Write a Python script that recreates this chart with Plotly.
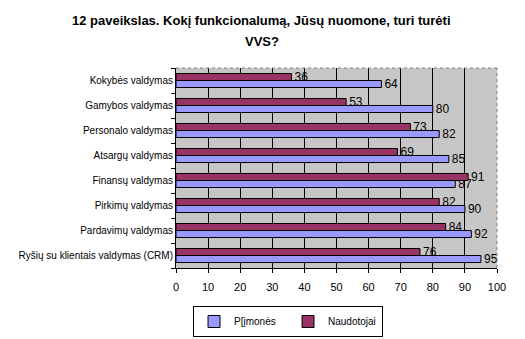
import plotly.graph_objects as go

# Categories listed bottom-to-top (Plotly draws the first category at the bottom)
categories = [
    "Ryšių su klientais valdymas (CRM)",
    "Pardavimų valdymas",
    "Pirkimų valdymas",
    "Finansų valdymas",
    "Atsargų valdymas",
    "Personalo valdymas",
    "Gamybos valdymas",
    "Kokybės valdymas",
]
imones = [95, 92, 90, 87, 85, 82, 80, 64]
naudotojai = [76, 84, 82, 91, 69, 73, 53, 36]
x_ticks = [0, 10, 20, 30, 40, 50, 60, 70, 80, 90, 100]
title_lines = ["12 paveikslas. Kokį funkcionalumą, Jūsų nuomone, turi turėti", "VVS?"]

FONT = "Liberation Sans, Arial, sans-serif"

fig = go.Figure()
fig.add_trace(go.Bar(
    y=categories, x=imones, orientation="h", name="P[įmonės",
    marker=dict(color="#9999FF", line=dict(color="black", width=1)),
    text=[str(v) for v in imones], textposition="outside",
    constraintext="none",
    textfont=dict(size=12, color="black", family=FONT),
    cliponaxis=False,
))
fig.add_trace(go.Bar(
    y=categories, x=naudotojai, orientation="h", name="Naudotojai",
    marker=dict(color="#993366", line=dict(color="black", width=1)),
    text=[str(v) for v in naudotojai], textposition="outside",
    constraintext="none",
    textfont=dict(size=12, color="black", family=FONT),
    cliponaxis=False,
))

fig.update_layout(
    width=525, height=339,
    margin=dict(l=176, r=28, t=68, b=71, autoexpand=False),
    paper_bgcolor="white",
    plot_bgcolor="#c6c6c6",
    barmode="group",
    bargap=0.44,
    bargroupgap=0,
    font=dict(family=FONT, size=10, color="black"),
    annotations=[
        dict(text="<b>%s</b>" % line, xref="paper", yref="paper",
             x=0.267, y=yy, xanchor="center", yanchor="middle", showarrow=False,
             font=dict(size=13, family=FONT, color="black"))
        for line, yy in zip(title_lines, [1.235, 1.135])
    ],
    legend=dict(
        orientation="h", x=0.349, xanchor="center", y=-0.19, yanchor="top",
        bordercolor="black", borderwidth=1, bgcolor="white",
        font=dict(size=10, family=FONT),
        traceorder="normal", itemwidth=30,
        entrywidth=49, entrywidthmode="pixels",
    ),
    showlegend=True,
)
fig.update_xaxes(
    range=[0, 100], tickvals=x_ticks, ticks="outside", ticklen=4,
    tickcolor="black", showline=True, linecolor="black", linewidth=1,
    showgrid=True, gridcolor="black", gridwidth=1, zeroline=False,
    tickfont=dict(size=11), ticklabelstandoff=5,
)
fig.update_yaxes(
    categoryorder="array", categoryarray=categories,
    ticks="outside", ticklen=4, tickcolor="black", tickson="boundaries",
    showline=True, linecolor="black", linewidth=1, showgrid=False,
    tickfont=dict(size=10),
)
# dashed grey frame on the top and right of the plot area
fig.add_shape(type="line", xref="paper", yref="paper", x0=1, x1=1, y0=0, y1=1,
              line=dict(color="#808080", width=1, dash="dot"))
fig.add_shape(type="line", xref="paper", yref="paper", x0=0, x1=1, y0=1, y1=1,
              line=dict(color="#808080", width=1, dash="dot"))

fig.write_html("out.html")
